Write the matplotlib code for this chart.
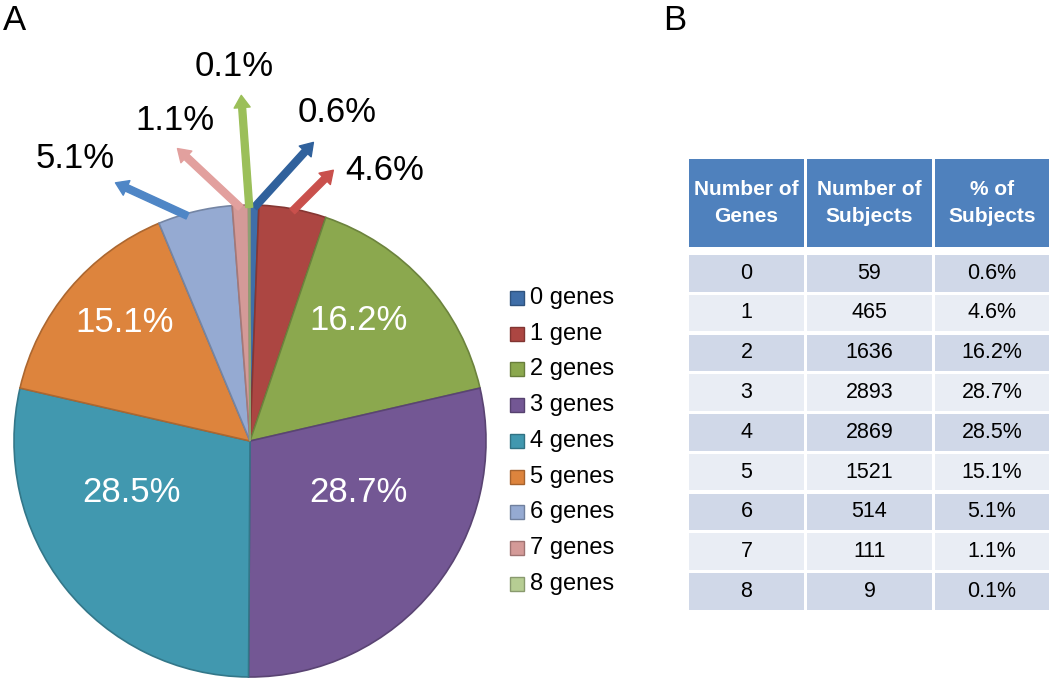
import matplotlib
matplotlib.use('Agg')
import matplotlib.pyplot as plt
from matplotlib.patches import Rectangle
from matplotlib.colors import to_rgb
import numpy as np

plt.rcParams['font.family'] = ['Liberation Sans', 'DejaVu Sans']

# data
genes = ['0', '1', '2', '3', '4', '5', '6', '7', '8']
legend_labels = ['0 genes', '1 gene', '2 genes', '3 genes', '4 genes',
                 '5 genes', '6 genes', '7 genes', '8 genes']
subjects = [59, 465, 1636, 2893, 2869, 1521, 514, 111, 9]
pct = [0.6, 4.6, 16.2, 28.7, 28.5, 15.1, 5.1, 1.1, 0.1]
pct_labels = ['{:.1f}%'.format(p) for p in pct]
header = ['Number of\nGenes', 'Number of\nSubjects', '% of\nSubjects']

colors = ['#3F6EA8', '#AC4642', '#8BA84E', '#735794', '#4198AF',
          '#DD843D', '#95AAD2', '#D49A98', '#B6CD93']
arrow_colors = {0: '#30619C', 1: '#C9504C', 6: '#4F86C6', 7: '#E2A09E', 8: '#9BBF59'}

W, H = 1050, 679


def py(y):
    return H - y


def darker(c, f=0.8):
    r, g, b = to_rgb(c)
    return (r * f, g * f, b * f)


fig = plt.figure(figsize=(W / 100, H / 100), dpi=100)
ax = fig.add_axes([0, 0, 1, 1])

cx, cy, R = 250, py(441), 236
wedges, _ = ax.pie(pct, colors=colors, startangle=90, counterclock=False,
                   center=(cx, cy), radius=R, frame=True,
                   wedgeprops=dict(linewidth=1.2))
for w, c in zip(wedges, colors):
    w.set_edgecolor(darker(c, 0.78))

ax.set_xlim(0, W)
ax.set_ylim(0, H)
ax.axis('off')

# labels inside large slices
inner_pos = {2: (359, 320), 3: (358, 492), 4: (132, 492), 5: (125, 322)}
for i, (x, y) in inner_pos.items():
    ax.text(x, py(y), pct_labels[i], color='white', fontsize=25,
            ha='center', va='center')

# arrows + labels for small slices (arrow offset, text position)
outer = {0: ((59, 65), (337, 113)),
         1: ((41, 41), (385, 170)),
         8: ((-8, 112), (234, 66)),
         7: ((-63, 59), (175, 120)),
         6: ((-72, 33), (75, 158))}
cum = np.cumsum([0] + pct)
for i, ((dx, dy), (tx, ty)) in outer.items():
    mid = np.deg2rad(90 - (cum[i] + pct[i] / 2) * 3.6)
    bx = cx + R * 0.99 * np.cos(mid)
    by = cy + R * 0.99 * np.sin(mid)
    if i == 6:
        bx, by = bx - 8, by - 2
    ax.annotate('', xy=(bx + dx, by + dy), xytext=(bx, by),
                arrowprops=dict(arrowstyle='simple,head_length=0.8,head_width=1.05,tail_width=0.45',
                                color=arrow_colors[i], mutation_scale=11,
                                shrinkA=0, shrinkB=0))
    ax.text(tx, py(ty), pct_labels[i], fontsize=25, ha='center', va='center',
            color='black')

# legend
for k, lab in enumerate(legend_labels):
    y = 298 + k * 35.7
    ax.add_patch(Rectangle((510, py(y) - 7), 14, 14, facecolor=colors[k],
                           edgecolor=darker(colors[k], 0.75), linewidth=1))
    ax.text(530, py(y), lab, fontsize=17, ha='left', va='center')

# panel letters
ax.text(3, py(20), 'A', fontsize=25, ha='left', va='center')
ax.text(663, py(20), 'B', fontsize=25, ha='left', va='center')

# table
col_edges = [(689, 804), (807, 932), (935, 1049)]
head_top, head_bot = 159, 247
row_top0, pitch, row_h = 255, 39.75, 36.5
for (x0, x1), htxt in zip(col_edges, header):
    ax.add_patch(Rectangle((x0, py(head_bot)), x1 - x0, head_bot - head_top,
                           facecolor='#4F81BD', edgecolor='none'))
    ax.text((x0 + x1) / 2, py((head_top + head_bot) / 2), htxt, color='white',
            fontsize=15, fontweight='bold', ha='center', va='center',
            linespacing=1.5)

for r in range(len(genes)):
    top = row_top0 + r * pitch
    fc = '#D0D8E8' if r % 2 == 0 else '#E9EDF4'
    vals = [genes[r], str(subjects[r]), pct_labels[r]]
    for (x0, x1), v in zip(col_edges, vals):
        ax.add_patch(Rectangle((x0, py(top + row_h)), x1 - x0, row_h,
                               facecolor=fc, edgecolor='none'))
        ax.text((x0 + x1) / 2, py(top + row_h / 2), v, fontsize=15.5,
                ha='center', va='center', color='black')

fig.savefig('out.png', dpi=100)
